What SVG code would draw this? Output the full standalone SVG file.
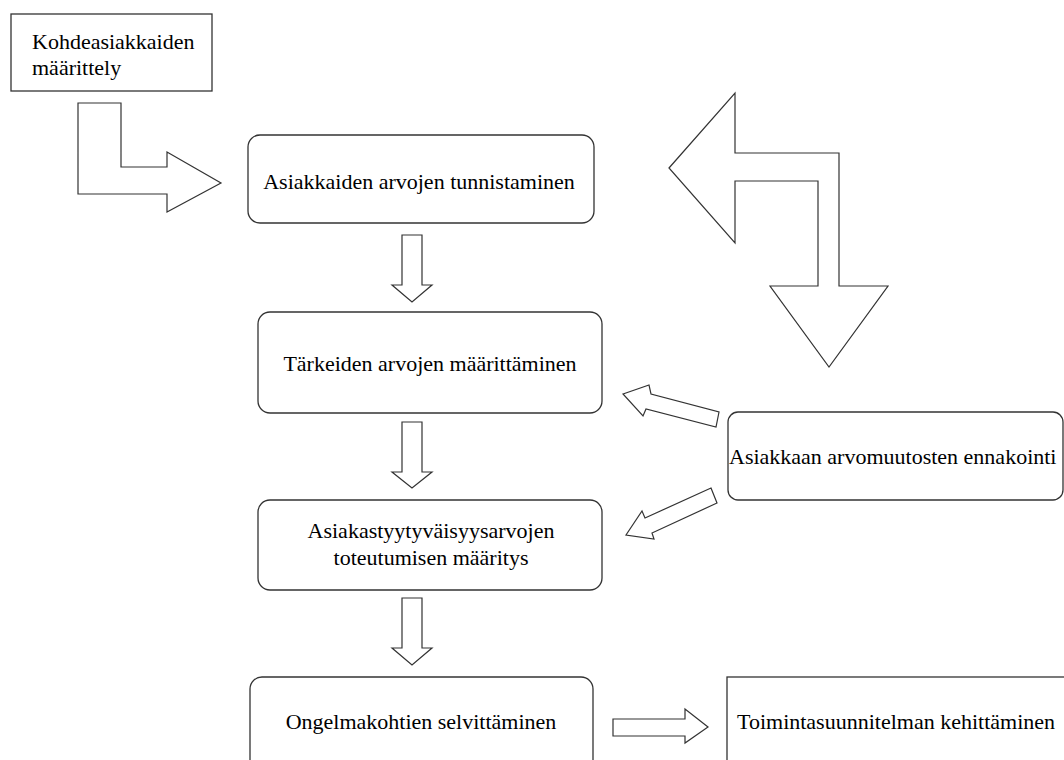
<svg xmlns="http://www.w3.org/2000/svg" width="1064" height="760" viewBox="0 0 1064 760">
  <style>
    .box { fill: #ffffff; stroke: #333333; stroke-width: 1.3; }
    .arrow { fill: #ffffff; stroke: #333333; stroke-width: 1.2; stroke-linejoin: miter; }
    .label { font-family: "Liberation Serif", "Times New Roman", serif; font-size: 22px; fill: #000000; }
    .mid { text-anchor: middle; }
  </style>
  <rect x="0" y="0" width="1064" height="760" fill="#ffffff"/>

  <!-- block arrows between the steps -->
  <g id="connectors">
    <path class="arrow" d="M78,103 L121,103 L121,167 L167,167 L167,152 L221,183 L167,212 L167,194 L78,194 Z"/>
    <path class="arrow" d="M402,235 L422,235 L422,285 L432,285 L412,302 L392,285 L402,285 Z"/>
    <path class="arrow" d="M402,422 L422,422 L422,472 L432,472 L412,488 L392,472 L402,472 Z"/>
    <path class="arrow" d="M402,598 L422,598 L422,648 L432,648 L412,665 L392,648 L402,648 Z"/>
    <path class="arrow" d="M613,719 L685,719 L685,709 L708,727 L685,743 L685,736 L613,736 Z"/>
    <path class="arrow" d="M669,168 L735,93 L735,153 L839,153 L839,286 L888,286 L829,367 L770,286 L818,286 L818,181 L735,181 L735,243 Z"/>
    <path class="arrow" d="M623,394 L649,385 L651,394 L719,412 L716,427 L646,409 L643,416 Z"/>
    <path class="arrow" d="M711,488 L717,503 L652,533 L654,539 L626,535 L642,511 L645,518 Z"/>
  </g>

  <g id="kohdeasiakkaiden">
    <rect class="box" x="11" y="14" width="201" height="77"/>
    <text class="label" x="32" y="49">Kohdeasiakkaiden</text>
    <text class="label" x="32" y="75">määrittely</text>
  </g>

  <g id="tunnistaminen">
    <rect class="box" x="248" y="135" width="346" height="88" rx="12" ry="12"/>
    <text class="label mid" x="419" y="189">Asiakkaiden arvojen tunnistaminen</text>
  </g>

  <g id="tarkeiden">
    <rect class="box" x="258" y="312" width="344" height="101" rx="12" ry="12"/>
    <text class="label mid" x="430" y="371">Tärkeiden arvojen määrittäminen</text>
  </g>

  <g id="tyytyvaisyys">
    <rect class="box" x="258" y="500" width="344" height="90" rx="12" ry="12"/>
    <text class="label mid" x="431" y="538">Asiakastyytyväisyysarvojen</text>
    <text class="label mid" x="431" y="565">toteutumisen määritys</text>
  </g>

  <g id="ongelmakohdat">
    <rect class="box" x="250" y="677" width="343" height="110" rx="12" ry="12"/>
    <text class="label mid" x="421" y="729">Ongelmakohtien selvittäminen</text>
  </g>

  <g id="ennakointi">
    <rect class="box" x="728" y="412" width="335" height="88" rx="10" ry="10"/>
    <text class="label" x="729" y="464">Asiakkaan arvomuutosten ennakointi</text>
  </g>

  <g id="toimintasuunnitelma">
    <rect class="box" x="727" y="677" width="360" height="110"/>
    <text class="label" x="737" y="729">Toimintasuunnitelman kehittäminen</text>
  </g>
</svg>
